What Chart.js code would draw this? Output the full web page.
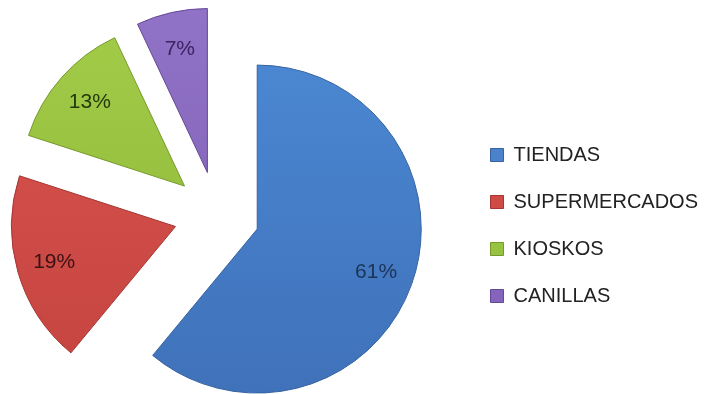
<!DOCTYPE html>
<html>
<head>
<meta charset="utf-8">
<script src="https://cdn.jsdelivr.net/npm/chart.js@4.4.0/dist/chart.umd.min.js"></script>
<style>
    html, body { margin: 0; padding: 0; background: #ffffff; overflow: hidden; }
    #grafico-wrap { width: 708px; height: 394px; overflow: hidden; }
    #canales-chart { display: block; margin-left: -30px; }
</style>
</head>
<body>
<div id="grafico-wrap"><canvas id="canales-chart" width="738" height="394"></canvas></div>
<script>
// Canales de venta (%)
const categorias = ['TIENDAS', 'SUPERMERCADOS', 'KIOSKOS', 'CANILLAS'];
const porcentajes = [61, 19, 13, 7];

// Paleta: tono claro (arriba), tono oscuro (abajo), borde y texto del rótulo
const coloresClaros = ['#4d8ad6', '#d9544f', '#a2cc48', '#9072c6'];
const coloresOscuros = ['#3e70b7', '#c4433f', '#8cb338', '#7b5bb1'];
const coloresBorde = ['#3663a0', '#a43733', '#76992c', '#644896'];
const coloresTexto = ['#1c3458', '#3b1212', '#26380c', '#3a2462'];
const coloresLeyenda = ['#4a82cc', '#d04a46', '#98c342', '#8564bb'];

const RADIO = 164;       // radio del pastel en px
const SEPARACION = 43;   // desplazamiento de cada porción hacia afuera en px

// Pastel "explotado": cada porción se traslada sobre su ángulo medio
// sin cambiar su radio ni su apertura (el offset nativo sí los cambia)
class PastelSeparado extends Chart.PieController {
    updateElements(arcs, start, count, mode) {
        super.updateElements(arcs, start, count, mode);
        for (let i = start; i < start + count; i++) {
            const arco = arcs[i];
            const medio = (arco.startAngle + arco.endAngle) / 2;
            arco.x += Math.cos(medio) * SEPARACION;
            arco.y += Math.sin(medio) * SEPARACION;
        }
    }
}
PastelSeparado.id = 'pastelSeparado';
Chart.register(PastelSeparado);

const fuente = '"Liberation Sans", Arial, sans-serif';

// Rótulos de porcentaje dentro de cada porción
const rotulosPlugin = {
    id: 'rotulos',
    afterDatasetsDraw(chart) {
        const { ctx } = chart;
        const meta = chart.getDatasetMeta(0);
        meta.data.forEach((arc, i) => {
            const { x, y, startAngle, endAngle, outerRadius } =
                arc.getProps(['x', 'y', 'startAngle', 'endAngle', 'outerRadius'], true);
            const medio = (startAngle + endAngle) / 2;
            const d = outerRadius * 0.77;
            ctx.save();
            ctx.font = '21px ' + fuente;
            ctx.fillStyle = coloresTexto[i];
            ctx.textAlign = 'center';
            ctx.textBaseline = 'middle';
            ctx.fillText(porcentajes[i] + '%', x + Math.cos(medio) * d, y + Math.sin(medio) * d);
            ctx.restore();
        });
    }
};

const ctx = document.getElementById('canales-chart').getContext('2d');

new Chart(ctx, {
    type: 'pastelSeparado',
    data: {
        labels: categorias,
        datasets: [{
            data: porcentajes,
            backgroundColor: (context) => {
                const i = context.dataIndex;
                const area = context.chart.chartArea;
                if (!area) return coloresClaros[i];
                const cy = (area.top + area.bottom) / 2;
                const g = context.chart.ctx.createLinearGradient(0, cy - RADIO - SEPARACION, 0, cy + RADIO + SEPARACION);
                g.addColorStop(0, coloresClaros[i]);
                g.addColorStop(1, coloresOscuros[i]);
                return g;
            },
            borderColor: coloresBorde,
            borderWidth: 1,
            hoverOffset: 0
        }]
    },
    options: {
        responsive: false,
        animation: false,
        events: [],
        radius: RADIO,
        layout: { padding: { left: 0, top: 35, right: 0, bottom: 0 } },
        plugins: {
            tooltip: { enabled: false },
            legend: {
                display: true,
                position: 'right',
                title: { display: true, text: '', font: { size: 10 }, padding: { top: 10, bottom: 0 } },
                labels: {
                    boxWidth: 13,
                    boxHeight: 13,
                    padding: 27,
                    color: '#222222',
                    font: { family: fuente, size: 20 },
                    generateLabels: (chart) => {
                        const base = Chart.overrides.pie.plugins.legend.labels.generateLabels(chart);
                        return base.map((item, i) => ({ ...item, fillStyle: coloresLeyenda[i], strokeStyle: coloresBorde[i] }));
                    }
                }
            }
        }
    },
    plugins: [rotulosPlugin]
});
</script>
</body>
</html>
